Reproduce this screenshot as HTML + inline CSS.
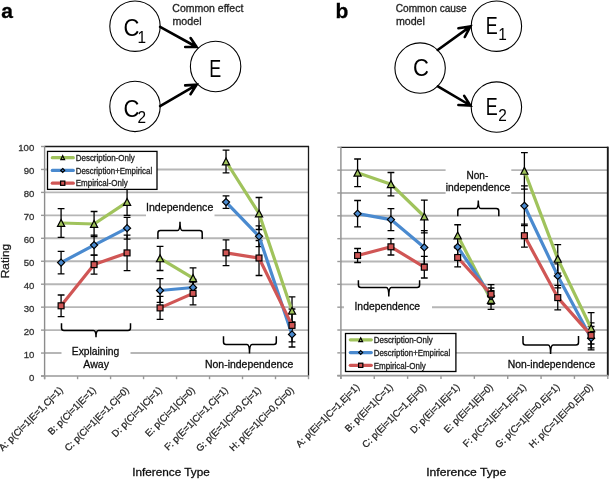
<!DOCTYPE html>
<html><head><meta charset="utf-8"><title>Figure</title>
<style>
html,body{margin:0;padding:0;background:#fff;}
svg{display:block;will-change:transform;}
svg text{font-family:"Liberation Sans", sans-serif;}
</style></head>
<body>
<svg width="609" height="479" viewBox="0 0 609 479">
<rect x="0" y="0" width="609" height="479" fill="#fff"/>
<text x="1.20" y="18.10" font-size="21" stroke="#000" stroke-width="0.3" fill="#000" font-weight="bold">a</text>
<text x="335.40" y="18.10" font-size="21" stroke="#000" stroke-width="0.3" fill="#000" font-weight="bold">b</text>
<circle cx="135" cy="26.2" r="25.2" fill="#fff" stroke="#000" stroke-width="1.1"/>
<circle cx="215.6" cy="66.5" r="25.2" fill="#fff" stroke="#000" stroke-width="1.1"/>
<circle cx="135" cy="106.4" r="25.2" fill="#fff" stroke="#000" stroke-width="1.1"/>
<path d="M160.1,26.8 L196.6,47.0 M190.6,38.0 L196.6,47.0 L185.2,47.0" fill="none" stroke="#000" stroke-width="2.6" stroke-linecap="round" stroke-linejoin="miter"/>
<path d="M160.1,106.2 L196.6,84.8 M185.2,85.4 L196.6,84.8 L190.5,94.2" fill="none" stroke="#000" stroke-width="2.6" stroke-linecap="round" stroke-linejoin="miter"/>
<text x="172.30" y="11.80" font-size="10.6" stroke="#222" stroke-width="0.3" textLength="71.00" lengthAdjust="spacingAndGlyphs" fill="#222">Common effect</text>
<text x="172.50" y="24.60" font-size="10.6" stroke="#222" stroke-width="0.3" textLength="29.00" lengthAdjust="spacingAndGlyphs" fill="#222">model</text>
<text transform="translate(123.60,36.30) scale(0.9,1)" x="0" y="0" font-size="24.5" fill="#000">C</text>
<text transform="translate(137.60,42.60) scale(0.95,1)" x="0" y="0" font-size="16.2" fill="#000">1</text>
<text transform="translate(123.60,116.60) scale(0.9,1)" x="0" y="0" font-size="24.5" fill="#000">C</text>
<text transform="translate(137.60,122.90) scale(0.95,1)" x="0" y="0" font-size="16.2" fill="#000">2</text>
<text transform="translate(209.30,76.90) scale(0.78,1)" x="0" y="0" font-size="23" fill="#000">E</text>
<circle cx="420.1" cy="68.1" r="25.2" fill="#fff" stroke="#000" stroke-width="1.1"/>
<circle cx="496.4" cy="26.2" r="25.2" fill="#fff" stroke="#000" stroke-width="1.1"/>
<circle cx="496.4" cy="107.1" r="25.2" fill="#fff" stroke="#000" stroke-width="1.1"/>
<path d="M437.7,50.0 L470.4,26.4 M458.4,28.2 L470.4,26.4 L464.8,37.0" fill="none" stroke="#000" stroke-width="2.6" stroke-linecap="round" stroke-linejoin="miter"/>
<path d="M437.9,86.4 L470.4,105.5 M464.2,95.9 L470.4,105.5 L458.4,105.0" fill="none" stroke="#000" stroke-width="2.6" stroke-linecap="round" stroke-linejoin="miter"/>
<text x="395.70" y="11.80" font-size="10.6" stroke="#222" stroke-width="0.3" textLength="71.00" lengthAdjust="spacingAndGlyphs" fill="#222">Common cause</text>
<text x="395.90" y="24.60" font-size="10.6" stroke="#222" stroke-width="0.3" textLength="29.00" lengthAdjust="spacingAndGlyphs" fill="#222">model</text>
<text transform="translate(412.90,76.00) scale(0.9,1)" x="0" y="0" font-size="24.5" fill="#000">C</text>
<text transform="translate(485.80,34.20) scale(0.78,1)" x="0" y="0" font-size="23" fill="#000">E</text>
<text transform="translate(498.30,40.30) scale(0.95,1)" x="0" y="0" font-size="16.2" fill="#000">1</text>
<text transform="translate(485.80,115.00) scale(0.78,1)" x="0" y="0" font-size="23" fill="#000">E</text>
<text transform="translate(498.30,121.20) scale(0.95,1)" x="0" y="0" font-size="16.2" fill="#000">2</text>
<line x1="44.6" y1="353.05" x2="308.5" y2="353.05" stroke="#b6b6b6" stroke-width="1.9"/>
<line x1="44.6" y1="330.10" x2="308.5" y2="330.10" stroke="#b6b6b6" stroke-width="1.9"/>
<line x1="44.6" y1="307.15" x2="308.5" y2="307.15" stroke="#b6b6b6" stroke-width="1.9"/>
<line x1="44.6" y1="284.20" x2="308.5" y2="284.20" stroke="#b6b6b6" stroke-width="1.9"/>
<line x1="44.6" y1="261.25" x2="308.5" y2="261.25" stroke="#b6b6b6" stroke-width="1.9"/>
<line x1="44.6" y1="238.30" x2="308.5" y2="238.30" stroke="#b6b6b6" stroke-width="1.9"/>
<line x1="44.6" y1="215.35" x2="308.5" y2="215.35" stroke="#b6b6b6" stroke-width="1.9"/>
<line x1="44.6" y1="192.40" x2="308.5" y2="192.40" stroke="#b6b6b6" stroke-width="1.9"/>
<line x1="44.6" y1="169.45" x2="308.5" y2="169.45" stroke="#b6b6b6" stroke-width="1.9"/>
<rect x="146" y="200" width="68.5" height="18" fill="#fff"/>
<rect x="61.5" y="343" width="69" height="14" fill="#fff"/>
<path d="M44.6,146.5 L308.5,146.5" fill="none" stroke="#1a1a1a" stroke-width="1.3"/>
<path d="M308.5,145.85 L308.5,376.0" fill="none" stroke="#1a1a1a" stroke-width="1.3"/>
<line x1="44.6" y1="145.9" x2="44.6" y2="379.2" stroke="#8c8c8c" stroke-width="1.4"/>
<line x1="41.0" y1="376.0" x2="309.0" y2="376.0" stroke="#999" stroke-width="1.7"/>
<line x1="41.0" y1="376.00" x2="44.6" y2="376.00" stroke="#999" stroke-width="1.4"/>
<line x1="41.0" y1="353.05" x2="44.6" y2="353.05" stroke="#999" stroke-width="1.4"/>
<line x1="41.0" y1="330.10" x2="44.6" y2="330.10" stroke="#999" stroke-width="1.4"/>
<line x1="41.0" y1="307.15" x2="44.6" y2="307.15" stroke="#999" stroke-width="1.4"/>
<line x1="41.0" y1="284.20" x2="44.6" y2="284.20" stroke="#999" stroke-width="1.4"/>
<line x1="41.0" y1="261.25" x2="44.6" y2="261.25" stroke="#999" stroke-width="1.4"/>
<line x1="41.0" y1="238.30" x2="44.6" y2="238.30" stroke="#999" stroke-width="1.4"/>
<line x1="41.0" y1="215.35" x2="44.6" y2="215.35" stroke="#999" stroke-width="1.4"/>
<line x1="41.0" y1="192.40" x2="44.6" y2="192.40" stroke="#999" stroke-width="1.4"/>
<line x1="41.0" y1="169.45" x2="44.6" y2="169.45" stroke="#999" stroke-width="1.4"/>
<line x1="41.0" y1="146.50" x2="44.6" y2="146.50" stroke="#999" stroke-width="1.4"/>
<line x1="44.60" y1="376.0" x2="44.60" y2="379.2" stroke="#999" stroke-width="1.4"/>
<line x1="77.59" y1="376.0" x2="77.59" y2="379.2" stroke="#999" stroke-width="1.4"/>
<line x1="110.57" y1="376.0" x2="110.57" y2="379.2" stroke="#999" stroke-width="1.4"/>
<line x1="143.56" y1="376.0" x2="143.56" y2="379.2" stroke="#999" stroke-width="1.4"/>
<line x1="176.55" y1="376.0" x2="176.55" y2="379.2" stroke="#999" stroke-width="1.4"/>
<line x1="209.54" y1="376.0" x2="209.54" y2="379.2" stroke="#999" stroke-width="1.4"/>
<line x1="242.52" y1="376.0" x2="242.52" y2="379.2" stroke="#999" stroke-width="1.4"/>
<line x1="275.51" y1="376.0" x2="275.51" y2="379.2" stroke="#999" stroke-width="1.4"/>
<line x1="308.50" y1="376.0" x2="308.50" y2="379.2" stroke="#999" stroke-width="1.4"/>
<path d="M61.09,208.60 V237.40 M57.69,208.60 H64.49 M57.69,237.40 H64.49" stroke="#000" stroke-width="1.3" fill="none"/>
<path d="M94.08,211.50 V236.50 M90.68,211.50 H97.48 M90.68,236.50 H97.48" stroke="#000" stroke-width="1.3" fill="none"/>
<path d="M127.07,188.90 V215.30 M123.67,188.90 H130.47 M123.67,215.30 H130.47" stroke="#000" stroke-width="1.3" fill="none"/>
<path d="M160.06,246.30 V270.50 M156.66,246.30 H163.46 M156.66,270.50 H163.46" stroke="#000" stroke-width="1.3" fill="none"/>
<path d="M193.04,267.80 V288.60 M189.64,267.80 H196.44 M189.64,288.60 H196.44" stroke="#000" stroke-width="1.3" fill="none"/>
<path d="M226.03,150.20 V172.80 M222.63,150.20 H229.43 M222.63,172.80 H229.43" stroke="#000" stroke-width="1.3" fill="none"/>
<path d="M259.02,197.50 V229.50 M255.62,197.50 H262.42 M255.62,229.50 H262.42" stroke="#000" stroke-width="1.3" fill="none"/>
<path d="M292.01,296.80 V324.80 M288.61,296.80 H295.41 M288.61,324.80 H295.41" stroke="#000" stroke-width="1.3" fill="none"/>
<path d="M61.09,251.30 V273.90 M57.69,251.30 H64.49 M57.69,273.90 H64.49" stroke="#000" stroke-width="1.3" fill="none"/>
<path d="M94.08,235.10 V255.10 M90.68,235.10 H97.48 M90.68,255.10 H97.48" stroke="#000" stroke-width="1.3" fill="none"/>
<path d="M127.07,217.30 V239.10 M123.67,217.30 H130.47 M123.67,239.10 H130.47" stroke="#000" stroke-width="1.3" fill="none"/>
<path d="M160.06,278.60 V302.40 M156.66,278.60 H163.46 M156.66,302.40 H163.46" stroke="#000" stroke-width="1.3" fill="none"/>
<path d="M193.04,279.50 V295.50 M189.64,279.50 H196.44 M189.64,295.50 H196.44" stroke="#000" stroke-width="1.3" fill="none"/>
<path d="M226.03,195.80 V208.40 M222.63,195.80 H229.43 M222.63,208.40 H229.43" stroke="#000" stroke-width="1.3" fill="none"/>
<path d="M259.02,225.90 V246.70 M255.62,225.90 H262.42 M255.62,246.70 H262.42" stroke="#000" stroke-width="1.3" fill="none"/>
<path d="M292.01,321.80 V347.00 M288.61,321.80 H295.41 M288.61,347.00 H295.41" stroke="#000" stroke-width="1.3" fill="none"/>
<path d="M61.09,295.00 V316.60 M57.69,295.00 H64.49 M57.69,316.60 H64.49" stroke="#000" stroke-width="1.3" fill="none"/>
<path d="M94.08,255.10 V274.10 M90.68,255.10 H97.48 M90.68,274.10 H97.48" stroke="#000" stroke-width="1.3" fill="none"/>
<path d="M127.07,235.20 V270.60 M123.67,235.20 H130.47 M123.67,270.60 H130.47" stroke="#000" stroke-width="1.3" fill="none"/>
<path d="M160.06,296.40 V319.40 M156.66,296.40 H163.46 M156.66,319.40 H163.46" stroke="#000" stroke-width="1.3" fill="none"/>
<path d="M193.04,282.00 V304.80 M189.64,282.00 H196.44 M189.64,304.80 H196.44" stroke="#000" stroke-width="1.3" fill="none"/>
<path d="M226.03,239.90 V265.70 M222.63,239.90 H229.43 M222.63,265.70 H229.43" stroke="#000" stroke-width="1.3" fill="none"/>
<path d="M259.02,240.50 V275.50 M255.62,240.50 H262.42 M255.62,275.50 H262.42" stroke="#000" stroke-width="1.3" fill="none"/>
<path d="M292.01,309.00 V341.80 M288.61,309.00 H295.41 M288.61,341.80 H295.41" stroke="#000" stroke-width="1.3" fill="none"/>
<polyline points="61.09,223.00 94.08,224.00 127.07,202.10" fill="none" stroke="#A0C35C" stroke-width="3.2" stroke-linejoin="round"/>
<polyline points="160.06,258.40 193.04,278.20" fill="none" stroke="#A0C35C" stroke-width="3.2" stroke-linejoin="round"/>
<polyline points="226.03,161.50 259.02,213.50 292.01,310.80" fill="none" stroke="#A0C35C" stroke-width="3.2" stroke-linejoin="round"/>
<path d="M61.09,219.45 L64.69,226.35 L57.49,226.35 Z" fill="#A0C35C" stroke="#000" stroke-width="1.2" stroke-linejoin="miter"/>
<path d="M94.08,220.45 L97.68,227.35 L90.48,227.35 Z" fill="#A0C35C" stroke="#000" stroke-width="1.2" stroke-linejoin="miter"/>
<path d="M127.07,198.55 L130.67,205.45 L123.47,205.45 Z" fill="#A0C35C" stroke="#000" stroke-width="1.2" stroke-linejoin="miter"/>
<path d="M160.06,254.85 L163.66,261.75 L156.46,261.75 Z" fill="#A0C35C" stroke="#000" stroke-width="1.2" stroke-linejoin="miter"/>
<path d="M193.04,274.65 L196.64,281.55 L189.44,281.55 Z" fill="#A0C35C" stroke="#000" stroke-width="1.2" stroke-linejoin="miter"/>
<path d="M226.03,157.95 L229.63,164.85 L222.43,164.85 Z" fill="#A0C35C" stroke="#000" stroke-width="1.2" stroke-linejoin="miter"/>
<path d="M259.02,209.95 L262.62,216.85 L255.42,216.85 Z" fill="#A0C35C" stroke="#000" stroke-width="1.2" stroke-linejoin="miter"/>
<path d="M292.01,307.25 L295.61,314.15 L288.41,314.15 Z" fill="#A0C35C" stroke="#000" stroke-width="1.2" stroke-linejoin="miter"/>
<polyline points="61.09,262.60 94.08,245.10 127.07,228.20" fill="none" stroke="#4A8ACF" stroke-width="3.2" stroke-linejoin="round"/>
<polyline points="160.06,290.50 193.04,287.50" fill="none" stroke="#4A8ACF" stroke-width="3.2" stroke-linejoin="round"/>
<polyline points="226.03,202.10 259.02,236.30 292.01,334.40" fill="none" stroke="#4A8ACF" stroke-width="3.2" stroke-linejoin="round"/>
<path d="M61.09,259.05 L64.64,262.60 L61.09,266.15 L57.54,262.60 Z" fill="#4A8ACF" stroke="#000" stroke-width="1.2"/>
<path d="M94.08,241.55 L97.63,245.10 L94.08,248.65 L90.53,245.10 Z" fill="#4A8ACF" stroke="#000" stroke-width="1.2"/>
<path d="M127.07,224.65 L130.62,228.20 L127.07,231.75 L123.52,228.20 Z" fill="#4A8ACF" stroke="#000" stroke-width="1.2"/>
<path d="M160.06,286.95 L163.61,290.50 L160.06,294.05 L156.51,290.50 Z" fill="#4A8ACF" stroke="#000" stroke-width="1.2"/>
<path d="M193.04,283.95 L196.59,287.50 L193.04,291.05 L189.49,287.50 Z" fill="#4A8ACF" stroke="#000" stroke-width="1.2"/>
<path d="M226.03,198.55 L229.58,202.10 L226.03,205.65 L222.48,202.10 Z" fill="#4A8ACF" stroke="#000" stroke-width="1.2"/>
<path d="M259.02,232.75 L262.57,236.30 L259.02,239.85 L255.47,236.30 Z" fill="#4A8ACF" stroke="#000" stroke-width="1.2"/>
<path d="M292.01,330.85 L295.56,334.40 L292.01,337.95 L288.46,334.40 Z" fill="#4A8ACF" stroke="#000" stroke-width="1.2"/>
<polyline points="61.09,305.80 94.08,264.60 127.07,252.90" fill="none" stroke="#D05655" stroke-width="3.2" stroke-linejoin="round"/>
<polyline points="160.06,307.90 193.04,293.40" fill="none" stroke="#D05655" stroke-width="3.2" stroke-linejoin="round"/>
<polyline points="226.03,252.80 259.02,258.00 292.01,325.40" fill="none" stroke="#D05655" stroke-width="3.2" stroke-linejoin="round"/>
<rect x="58.14" y="302.85" width="5.90" height="5.90" fill="#D05655" stroke="#000" stroke-width="1.2"/>
<rect x="91.13" y="261.65" width="5.90" height="5.90" fill="#D05655" stroke="#000" stroke-width="1.2"/>
<rect x="124.12" y="249.95" width="5.90" height="5.90" fill="#D05655" stroke="#000" stroke-width="1.2"/>
<rect x="157.11" y="304.95" width="5.90" height="5.90" fill="#D05655" stroke="#000" stroke-width="1.2"/>
<rect x="190.09" y="290.45" width="5.90" height="5.90" fill="#D05655" stroke="#000" stroke-width="1.2"/>
<rect x="223.08" y="249.85" width="5.90" height="5.90" fill="#D05655" stroke="#000" stroke-width="1.2"/>
<rect x="256.07" y="255.05" width="5.90" height="5.90" fill="#D05655" stroke="#000" stroke-width="1.2"/>
<rect x="289.06" y="322.45" width="5.90" height="5.90" fill="#D05655" stroke="#000" stroke-width="1.2"/>
<path d="M157.9,239.0 V233.1 Q157.9,230.6 160.4,230.6 H177.5 Q180.0,230.6 180.0,221.7 Q180.0,230.6 182.5,230.6 H199.7 Q202.2,230.6 202.2,233.1 V239.0" fill="none" stroke="#000" stroke-width="1.5"/>
<path d="M61.5,323.2 V328.1 Q61.5,330.6 64.0,330.6 H93.5 Q96.0,330.6 96.0,337.2 Q96.0,330.6 98.5,330.6 H128.0 Q130.5,330.6 130.5,328.1 V323.2" fill="none" stroke="#000" stroke-width="1.5"/>
<path d="M223.5,336.2 V342.1 Q223.5,344.6 226.0,344.6 H247.0 Q249.5,344.6 249.5,353.5 Q249.5,344.6 252.0,344.6 H273.8 Q276.3,344.6 276.3,342.1 V336.2" fill="none" stroke="#000" stroke-width="1.5"/>
<text x="146.00" y="211.30" font-size="10.6" stroke="#1e1e1e" stroke-width="0.3" textLength="67.30" lengthAdjust="spacingAndGlyphs">Independence</text>
<text x="71.80" y="355.20" font-size="10.6" stroke="#1e1e1e" stroke-width="0.3" textLength="47.50" lengthAdjust="spacingAndGlyphs">Explaining</text>
<text x="83.30" y="367.50" font-size="10.6" stroke="#1e1e1e" stroke-width="0.3" textLength="25.80" lengthAdjust="spacingAndGlyphs">Away</text>
<text x="205.00" y="368.30" font-size="10.2" stroke="#1e1e1e" stroke-width="0.3" textLength="88.30" lengthAdjust="spacingAndGlyphs">Non-independence</text>
<text x="34.30" y="380.80" font-size="9.6" stroke="#333" stroke-width="0.3" text-anchor="end" fill="#333">0</text>
<text x="34.30" y="357.85" font-size="9.6" stroke="#333" stroke-width="0.3" text-anchor="end" fill="#333">10</text>
<text x="34.30" y="334.90" font-size="9.6" stroke="#333" stroke-width="0.3" text-anchor="end" fill="#333">20</text>
<text x="34.30" y="311.95" font-size="9.6" stroke="#333" stroke-width="0.3" text-anchor="end" fill="#333">30</text>
<text x="34.30" y="289.00" font-size="9.6" stroke="#333" stroke-width="0.3" text-anchor="end" fill="#333">40</text>
<text x="34.30" y="266.05" font-size="9.6" stroke="#333" stroke-width="0.3" text-anchor="end" fill="#333">50</text>
<text x="34.30" y="243.10" font-size="9.6" stroke="#333" stroke-width="0.3" text-anchor="end" fill="#333">60</text>
<text x="34.30" y="220.15" font-size="9.6" stroke="#333" stroke-width="0.3" text-anchor="end" fill="#333">70</text>
<text x="34.30" y="197.20" font-size="9.6" stroke="#333" stroke-width="0.3" text-anchor="end" fill="#333">80</text>
<text x="34.30" y="174.25" font-size="9.6" stroke="#333" stroke-width="0.3" text-anchor="end" fill="#333">90</text>
<text x="34.30" y="151.30" font-size="9.6" stroke="#333" stroke-width="0.3" text-anchor="end" fill="#333">100</text>
<line x1="340.9" y1="352.86" x2="607.8" y2="352.86" stroke="#b6b6b6" stroke-width="1.9"/>
<line x1="340.9" y1="330.02" x2="607.8" y2="330.02" stroke="#b6b6b6" stroke-width="1.9"/>
<line x1="340.9" y1="307.18" x2="607.8" y2="307.18" stroke="#b6b6b6" stroke-width="1.9"/>
<line x1="340.9" y1="284.34" x2="607.8" y2="284.34" stroke="#b6b6b6" stroke-width="1.9"/>
<line x1="340.9" y1="261.50" x2="607.8" y2="261.50" stroke="#b6b6b6" stroke-width="1.9"/>
<line x1="340.9" y1="238.66" x2="607.8" y2="238.66" stroke="#b6b6b6" stroke-width="1.9"/>
<line x1="340.9" y1="215.82" x2="607.8" y2="215.82" stroke="#b6b6b6" stroke-width="1.9"/>
<line x1="340.9" y1="192.98" x2="607.8" y2="192.98" stroke="#b6b6b6" stroke-width="1.9"/>
<line x1="340.9" y1="170.14" x2="607.8" y2="170.14" stroke="#b6b6b6" stroke-width="1.9"/>
<rect x="445.6" y="167" width="65.7" height="27.5" fill="#fff"/>
<rect x="344" y="299" width="88" height="13" fill="#fff"/>
<path d="M340.9,147.3 L607.8,147.3" fill="none" stroke="#1a1a1a" stroke-width="1.3"/>
<path d="M607.8,146.65 L607.8,375.7" fill="none" stroke="#1a1a1a" stroke-width="1.9"/>
<line x1="340.9" y1="146.70000000000002" x2="340.9" y2="378.9" stroke="#8c8c8c" stroke-width="1.4"/>
<line x1="337.29999999999995" y1="375.7" x2="608.3" y2="375.7" stroke="#999" stroke-width="1.7"/>
<line x1="337.29999999999995" y1="375.70" x2="340.9" y2="375.70" stroke="#999" stroke-width="1.4"/>
<line x1="337.29999999999995" y1="352.86" x2="340.9" y2="352.86" stroke="#999" stroke-width="1.4"/>
<line x1="337.29999999999995" y1="330.02" x2="340.9" y2="330.02" stroke="#999" stroke-width="1.4"/>
<line x1="337.29999999999995" y1="307.18" x2="340.9" y2="307.18" stroke="#999" stroke-width="1.4"/>
<line x1="337.29999999999995" y1="284.34" x2="340.9" y2="284.34" stroke="#999" stroke-width="1.4"/>
<line x1="337.29999999999995" y1="261.50" x2="340.9" y2="261.50" stroke="#999" stroke-width="1.4"/>
<line x1="337.29999999999995" y1="238.66" x2="340.9" y2="238.66" stroke="#999" stroke-width="1.4"/>
<line x1="337.29999999999995" y1="215.82" x2="340.9" y2="215.82" stroke="#999" stroke-width="1.4"/>
<line x1="337.29999999999995" y1="192.98" x2="340.9" y2="192.98" stroke="#999" stroke-width="1.4"/>
<line x1="337.29999999999995" y1="170.14" x2="340.9" y2="170.14" stroke="#999" stroke-width="1.4"/>
<line x1="337.29999999999995" y1="147.30" x2="340.9" y2="147.30" stroke="#999" stroke-width="1.4"/>
<line x1="340.90" y1="375.7" x2="340.90" y2="378.9" stroke="#999" stroke-width="1.4"/>
<line x1="374.26" y1="375.7" x2="374.26" y2="378.9" stroke="#999" stroke-width="1.4"/>
<line x1="407.62" y1="375.7" x2="407.62" y2="378.9" stroke="#999" stroke-width="1.4"/>
<line x1="440.99" y1="375.7" x2="440.99" y2="378.9" stroke="#999" stroke-width="1.4"/>
<line x1="474.35" y1="375.7" x2="474.35" y2="378.9" stroke="#999" stroke-width="1.4"/>
<line x1="507.71" y1="375.7" x2="507.71" y2="378.9" stroke="#999" stroke-width="1.4"/>
<line x1="541.07" y1="375.7" x2="541.07" y2="378.9" stroke="#999" stroke-width="1.4"/>
<line x1="574.44" y1="375.7" x2="574.44" y2="378.9" stroke="#999" stroke-width="1.4"/>
<line x1="607.80" y1="375.7" x2="607.80" y2="378.9" stroke="#999" stroke-width="1.4"/>
<path d="M357.58,159.00 V186.60 M354.18,159.00 H360.98 M354.18,186.60 H360.98" stroke="#000" stroke-width="1.3" fill="none"/>
<path d="M390.94,172.50 V195.90 M387.54,172.50 H394.34 M387.54,195.90 H394.34" stroke="#000" stroke-width="1.3" fill="none"/>
<path d="M424.31,200.10 V232.90 M420.91,200.10 H427.71 M420.91,232.90 H427.71" stroke="#000" stroke-width="1.3" fill="none"/>
<path d="M457.67,224.75 V246.25 M454.27,224.75 H461.07 M454.27,246.25 H461.07" stroke="#000" stroke-width="1.3" fill="none"/>
<path d="M491.03,290.70 V309.30 M487.63,290.70 H494.43 M487.63,309.30 H494.43" stroke="#000" stroke-width="1.3" fill="none"/>
<path d="M524.39,152.60 V189.20 M520.99,152.60 H527.79 M520.99,189.20 H527.79" stroke="#000" stroke-width="1.3" fill="none"/>
<path d="M557.76,244.70 V273.10 M554.36,244.70 H561.16 M554.36,273.10 H561.16" stroke="#000" stroke-width="1.3" fill="none"/>
<path d="M591.12,312.60 V344.00 M587.72,312.60 H594.52 M587.72,344.00 H594.52" stroke="#000" stroke-width="1.3" fill="none"/>
<path d="M357.58,200.50 V226.90 M354.18,200.50 H360.98 M354.18,226.90 H360.98" stroke="#000" stroke-width="1.3" fill="none"/>
<path d="M390.94,208.60 V230.60 M387.54,208.60 H394.34 M387.54,230.60 H394.34" stroke="#000" stroke-width="1.3" fill="none"/>
<path d="M424.31,230.70 V264.10 M420.91,230.70 H427.71 M420.91,264.10 H427.71" stroke="#000" stroke-width="1.3" fill="none"/>
<path d="M457.67,238.00 V256.00 M454.27,238.00 H461.07 M454.27,256.00 H461.07" stroke="#000" stroke-width="1.3" fill="none"/>
<path d="M491.03,288.00 V304.00 M487.63,288.00 H494.43 M487.63,304.00 H494.43" stroke="#000" stroke-width="1.3" fill="none"/>
<path d="M524.39,185.90 V225.70 M520.99,185.90 H527.79 M520.99,225.70 H527.79" stroke="#000" stroke-width="1.3" fill="none"/>
<path d="M557.76,263.90 V287.90 M554.36,263.90 H561.16 M554.36,287.90 H561.16" stroke="#000" stroke-width="1.3" fill="none"/>
<path d="M591.12,326.50 V349.90 M587.72,326.50 H594.52 M587.72,349.90 H594.52" stroke="#000" stroke-width="1.3" fill="none"/>
<path d="M357.58,248.50 V262.50 M354.18,248.50 H360.98 M354.18,262.50 H360.98" stroke="#000" stroke-width="1.3" fill="none"/>
<path d="M390.94,238.60 V255.00 M387.54,238.60 H394.34 M387.54,255.00 H394.34" stroke="#000" stroke-width="1.3" fill="none"/>
<path d="M424.31,256.40 V278.00 M420.91,256.40 H427.71 M420.91,278.00 H427.71" stroke="#000" stroke-width="1.3" fill="none"/>
<path d="M457.67,248.10 V266.90 M454.27,248.10 H461.07 M454.27,266.90 H461.07" stroke="#000" stroke-width="1.3" fill="none"/>
<path d="M491.03,284.60 V303.80 M487.63,284.60 H494.43 M487.63,303.80 H494.43" stroke="#000" stroke-width="1.3" fill="none"/>
<path d="M524.39,224.20 V247.20 M520.99,224.20 H527.79 M520.99,247.20 H527.79" stroke="#000" stroke-width="1.3" fill="none"/>
<path d="M557.76,285.40 V309.80 M554.36,285.40 H561.16 M554.36,309.80 H561.16" stroke="#000" stroke-width="1.3" fill="none"/>
<path d="M591.12,322.90 V347.90 M587.72,322.90 H594.52 M587.72,347.90 H594.52" stroke="#000" stroke-width="1.3" fill="none"/>
<polyline points="357.58,172.80 390.94,184.20 424.31,216.50" fill="none" stroke="#A0C35C" stroke-width="3.2" stroke-linejoin="round"/>
<polyline points="457.67,235.50 491.03,300.00" fill="none" stroke="#A0C35C" stroke-width="3.2" stroke-linejoin="round"/>
<polyline points="524.39,170.90 557.76,258.90 591.12,328.30" fill="none" stroke="#A0C35C" stroke-width="3.2" stroke-linejoin="round"/>
<path d="M357.58,169.25 L361.18,176.15 L353.98,176.15 Z" fill="#A0C35C" stroke="#000" stroke-width="1.2" stroke-linejoin="miter"/>
<path d="M390.94,180.65 L394.54,187.55 L387.34,187.55 Z" fill="#A0C35C" stroke="#000" stroke-width="1.2" stroke-linejoin="miter"/>
<path d="M424.31,212.95 L427.91,219.85 L420.71,219.85 Z" fill="#A0C35C" stroke="#000" stroke-width="1.2" stroke-linejoin="miter"/>
<path d="M457.67,231.95 L461.27,238.85 L454.07,238.85 Z" fill="#A0C35C" stroke="#000" stroke-width="1.2" stroke-linejoin="miter"/>
<path d="M491.03,296.45 L494.63,303.35 L487.43,303.35 Z" fill="#A0C35C" stroke="#000" stroke-width="1.2" stroke-linejoin="miter"/>
<path d="M524.39,167.35 L527.99,174.25 L520.79,174.25 Z" fill="#A0C35C" stroke="#000" stroke-width="1.2" stroke-linejoin="miter"/>
<path d="M557.76,255.35 L561.36,262.25 L554.16,262.25 Z" fill="#A0C35C" stroke="#000" stroke-width="1.2" stroke-linejoin="miter"/>
<path d="M591.12,324.75 L594.72,331.65 L587.52,331.65 Z" fill="#A0C35C" stroke="#000" stroke-width="1.2" stroke-linejoin="miter"/>
<polyline points="357.58,213.70 390.94,219.60 424.31,247.40" fill="none" stroke="#4A8ACF" stroke-width="3.2" stroke-linejoin="round"/>
<polyline points="457.67,247.00 491.03,296.00" fill="none" stroke="#4A8ACF" stroke-width="3.2" stroke-linejoin="round"/>
<polyline points="524.39,205.80 557.76,275.90 591.12,338.20" fill="none" stroke="#4A8ACF" stroke-width="3.2" stroke-linejoin="round"/>
<path d="M357.58,210.15 L361.13,213.70 L357.58,217.25 L354.03,213.70 Z" fill="#4A8ACF" stroke="#000" stroke-width="1.2"/>
<path d="M390.94,216.05 L394.49,219.60 L390.94,223.15 L387.39,219.60 Z" fill="#4A8ACF" stroke="#000" stroke-width="1.2"/>
<path d="M424.31,243.85 L427.86,247.40 L424.31,250.95 L420.76,247.40 Z" fill="#4A8ACF" stroke="#000" stroke-width="1.2"/>
<path d="M457.67,243.45 L461.22,247.00 L457.67,250.55 L454.12,247.00 Z" fill="#4A8ACF" stroke="#000" stroke-width="1.2"/>
<path d="M491.03,292.45 L494.58,296.00 L491.03,299.55 L487.48,296.00 Z" fill="#4A8ACF" stroke="#000" stroke-width="1.2"/>
<path d="M524.39,202.25 L527.94,205.80 L524.39,209.35 L520.84,205.80 Z" fill="#4A8ACF" stroke="#000" stroke-width="1.2"/>
<path d="M557.76,272.35 L561.31,275.90 L557.76,279.45 L554.21,275.90 Z" fill="#4A8ACF" stroke="#000" stroke-width="1.2"/>
<path d="M591.12,334.65 L594.67,338.20 L591.12,341.75 L587.57,338.20 Z" fill="#4A8ACF" stroke="#000" stroke-width="1.2"/>
<polyline points="357.58,255.50 390.94,246.80 424.31,267.20" fill="none" stroke="#D05655" stroke-width="3.2" stroke-linejoin="round"/>
<polyline points="457.67,257.50 491.03,294.20" fill="none" stroke="#D05655" stroke-width="3.2" stroke-linejoin="round"/>
<polyline points="524.39,235.70 557.76,297.60 591.12,335.40" fill="none" stroke="#D05655" stroke-width="3.2" stroke-linejoin="round"/>
<rect x="354.63" y="252.55" width="5.90" height="5.90" fill="#D05655" stroke="#000" stroke-width="1.2"/>
<rect x="387.99" y="243.85" width="5.90" height="5.90" fill="#D05655" stroke="#000" stroke-width="1.2"/>
<rect x="421.36" y="264.25" width="5.90" height="5.90" fill="#D05655" stroke="#000" stroke-width="1.2"/>
<rect x="454.72" y="254.55" width="5.90" height="5.90" fill="#D05655" stroke="#000" stroke-width="1.2"/>
<rect x="488.08" y="291.25" width="5.90" height="5.90" fill="#D05655" stroke="#000" stroke-width="1.2"/>
<rect x="521.44" y="232.75" width="5.90" height="5.90" fill="#D05655" stroke="#000" stroke-width="1.2"/>
<rect x="554.81" y="294.65" width="5.90" height="5.90" fill="#D05655" stroke="#000" stroke-width="1.2"/>
<rect x="588.17" y="332.45" width="5.90" height="5.90" fill="#D05655" stroke="#000" stroke-width="1.2"/>
<path d="M457.8,216.3 V211.0 Q457.8,208.5 460.3,208.5 H475.8 Q478.3,208.5 478.3,200.4 Q478.3,208.5 480.8,208.5 H496.3 Q498.8,208.5 498.8,211.0 V216.3" fill="none" stroke="#000" stroke-width="1.5"/>
<path d="M358.4,280.2 V285.1 Q358.4,287.6 360.9,287.6 H386.3 Q388.8,287.6 388.8,296.6 Q388.8,287.6 391.3,287.6 H417.1 Q419.6,287.6 419.6,285.1 V280.2" fill="none" stroke="#000" stroke-width="1.5"/>
<path d="M523.0,335.9 V342.5 Q523.0,345.0 525.5,345.0 H548.1 Q550.6,345.0 550.6,353.9 Q550.6,345.0 553.1,345.0 H576.0 Q578.5,345.0 578.5,342.5 V335.9" fill="none" stroke="#000" stroke-width="1.5"/>
<text x="466.50" y="178.50" font-size="10.4" stroke="#1e1e1e" stroke-width="0.3" textLength="21.80" lengthAdjust="spacingAndGlyphs">Non-</text>
<text x="445.80" y="190.90" font-size="10.4" stroke="#1e1e1e" stroke-width="0.3" textLength="64.50" lengthAdjust="spacingAndGlyphs">independence</text>
<text x="354.50" y="309.90" font-size="10.6" stroke="#1e1e1e" stroke-width="0.3" textLength="65.60" lengthAdjust="spacingAndGlyphs">Independence</text>
<text x="507.80" y="368.30" font-size="10.2" stroke="#1e1e1e" stroke-width="0.3" textLength="87.60" lengthAdjust="spacingAndGlyphs">Non-independence</text>
<rect x="47.5" y="151.4" width="109.5" height="38" fill="#fff" stroke="#000" stroke-width="1.3"/>
<line x1="52.3" y1="157.70" x2="73.3" y2="157.70" stroke="#A0C35C" stroke-width="3.2" stroke-linecap="round"/>
<path d="M62.70,155.66 L64.57,159.54 L60.83,159.54 Z" fill="#A0C35C" stroke="#000" stroke-width="1.2" stroke-linejoin="miter"/>
<text x="75.70" y="160.90" font-size="8.4" stroke="#222" stroke-width="0.3" textLength="59.00" lengthAdjust="spacingAndGlyphs" fill="#222">Description-Only</text>
<line x1="52.3" y1="170.45" x2="73.3" y2="170.45" stroke="#4A8ACF" stroke-width="3.2" stroke-linecap="round"/>
<path d="M62.70,168.50 L64.65,170.45 L62.70,172.40 L60.75,170.45 Z" fill="#4A8ACF" stroke="#000" stroke-width="1.2"/>
<text x="75.70" y="173.65" font-size="8.4" stroke="#222" stroke-width="0.3" textLength="76.50" lengthAdjust="spacingAndGlyphs" fill="#222">Description+Empirical</text>
<line x1="52.3" y1="183.20" x2="73.3" y2="183.20" stroke="#D05655" stroke-width="3.2" stroke-linecap="round"/>
<rect x="60.58" y="181.08" width="4.25" height="4.25" fill="#D05655" stroke="#000" stroke-width="1.2"/>
<text x="75.70" y="186.40" font-size="8.4" stroke="#222" stroke-width="0.3" textLength="52.00" lengthAdjust="spacingAndGlyphs" fill="#222">Empirical-Only</text>
<rect x="345.5" y="333.5" width="110.4" height="38" fill="#fff" stroke="#000" stroke-width="1.3"/>
<line x1="350.3" y1="339.80" x2="371.3" y2="339.80" stroke="#A0C35C" stroke-width="3.2" stroke-linecap="round"/>
<path d="M360.70,337.76 L362.57,341.64 L358.83,341.64 Z" fill="#A0C35C" stroke="#000" stroke-width="1.2" stroke-linejoin="miter"/>
<text x="373.70" y="343.00" font-size="8.4" stroke="#222" stroke-width="0.3" textLength="59.00" lengthAdjust="spacingAndGlyphs" fill="#222">Description-Only</text>
<line x1="350.3" y1="352.55" x2="371.3" y2="352.55" stroke="#4A8ACF" stroke-width="3.2" stroke-linecap="round"/>
<path d="M360.70,350.60 L362.65,352.55 L360.70,354.50 L358.75,352.55 Z" fill="#4A8ACF" stroke="#000" stroke-width="1.2"/>
<text x="373.70" y="355.75" font-size="8.4" stroke="#222" stroke-width="0.3" textLength="76.50" lengthAdjust="spacingAndGlyphs" fill="#222">Description+Empirical</text>
<line x1="350.3" y1="365.30" x2="371.3" y2="365.30" stroke="#D05655" stroke-width="3.2" stroke-linecap="round"/>
<rect x="358.58" y="363.18" width="4.25" height="4.25" fill="#D05655" stroke="#000" stroke-width="1.2"/>
<text x="373.70" y="368.50" font-size="8.4" stroke="#222" stroke-width="0.3" textLength="52.00" lengthAdjust="spacingAndGlyphs" fill="#222">Empirical-Only</text>
<text transform="translate(63.59,390.7) rotate(-45)" x="0" y="0" font-size="9.6" text-anchor="end" fill="#222" stroke="#222" stroke-width="0.25">A: p(Ci=1|E=1,Cj=1)</text>
<text transform="translate(96.58,390.7) rotate(-45)" x="0" y="0" font-size="9.6" text-anchor="end" fill="#222" stroke="#222" stroke-width="0.25">B: p(Ci=1|E=1)</text>
<text transform="translate(129.57,390.7) rotate(-45)" x="0" y="0" font-size="9.6" text-anchor="end" fill="#222" stroke="#222" stroke-width="0.25">C: p(Ci=1|E=1,Cj=0)</text>
<text transform="translate(162.56,390.7) rotate(-45)" x="0" y="0" font-size="9.6" text-anchor="end" fill="#222" stroke="#222" stroke-width="0.25">D: p(Ci=1|Cj=1)</text>
<text transform="translate(195.54,390.7) rotate(-45)" x="0" y="0" font-size="9.6" text-anchor="end" fill="#222" stroke="#222" stroke-width="0.25">E: p(Ci=1|Cj=0)</text>
<text transform="translate(228.53,390.7) rotate(-45)" x="0" y="0" font-size="9.6" text-anchor="end" fill="#222" stroke="#222" stroke-width="0.25">F: p(E=1|Ci=1,Cj=1)</text>
<text transform="translate(261.52,390.7) rotate(-45)" x="0" y="0" font-size="9.6" text-anchor="end" fill="#222" stroke="#222" stroke-width="0.25">G: p(E=1|Ci=0,Cj=1)</text>
<text transform="translate(294.51,390.7) rotate(-45)" x="0" y="0" font-size="9.6" text-anchor="end" fill="#222" stroke="#222" stroke-width="0.25">H: p(E=1|Ci=0,Cj=0)</text>
<text transform="translate(360.08,387.7) rotate(-45)" x="0" y="0" font-size="9.6" text-anchor="end" fill="#222" stroke="#222" stroke-width="0.25">A: p(Ei=1|C=1,Ej=1)</text>
<text transform="translate(393.44,387.7) rotate(-45)" x="0" y="0" font-size="9.6" text-anchor="end" fill="#222" stroke="#222" stroke-width="0.25">B: p(Ei=1|C=1)</text>
<text transform="translate(426.81,387.7) rotate(-45)" x="0" y="0" font-size="9.6" text-anchor="end" fill="#222" stroke="#222" stroke-width="0.25">C: p(Ei=1|C=1,Ej=0)</text>
<text transform="translate(460.17,387.7) rotate(-45)" x="0" y="0" font-size="9.6" text-anchor="end" fill="#222" stroke="#222" stroke-width="0.25">D: p(Ei=1|Ej=1)</text>
<text transform="translate(493.53,387.7) rotate(-45)" x="0" y="0" font-size="9.6" text-anchor="end" fill="#222" stroke="#222" stroke-width="0.25">E: p(Ei=1|Ej=0)</text>
<text transform="translate(526.89,387.7) rotate(-45)" x="0" y="0" font-size="9.6" text-anchor="end" fill="#222" stroke="#222" stroke-width="0.25">F: p(C=1|Ei=1,Ej=1)</text>
<text transform="translate(560.26,387.7) rotate(-45)" x="0" y="0" font-size="9.6" text-anchor="end" fill="#222" stroke="#222" stroke-width="0.25">G: p(C=1|Ei=0,Ej=1)</text>
<text transform="translate(593.62,387.7) rotate(-45)" x="0" y="0" font-size="9.6" text-anchor="end" fill="#222" stroke="#222" stroke-width="0.25">H: p(C=1|Ei=0,Ej=0)</text>
<text x="132.20" y="476.00" font-size="11.2" stroke="#1e1e1e" stroke-width="0.3" textLength="77.60" lengthAdjust="spacingAndGlyphs">Inference Type</text>
<text x="426.20" y="476.00" font-size="11.2" stroke="#1e1e1e" stroke-width="0.3" textLength="80.20" lengthAdjust="spacingAndGlyphs">Inference Type</text>
<text transform="translate(9.2,278.3) rotate(-90)" x="0" y="0" font-size="11.2" textLength="34.5" lengthAdjust="spacingAndGlyphs" fill="#1e1e1e" stroke="#1e1e1e" stroke-width="0.3">Rating</text>
</svg>
</body></html>
